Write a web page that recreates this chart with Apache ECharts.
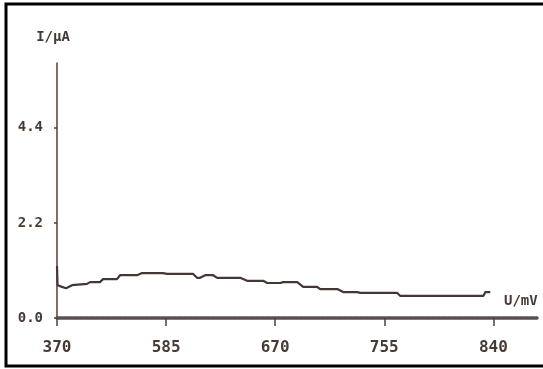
<!DOCTYPE html>
<html>
<head>
<meta charset="utf-8">
<script src="https://cdn.jsdelivr.net/npm/echarts@6/dist/echarts.min.js"></script>
<style>
html,body{margin:0;padding:0;background:#fff;}
#chart{width:543px;height:369px;}
</style>
</head>
<body>
<div id="chart"></div>
<script>
// x positions in axis-tick units (0 = first tick label, 1 = second, ...)
var xTickLabels = ['370', '585', '670', '755', '840'];
var yTickValues = [0, 2.2, 4.4];
var curveX = [0, 0.005, 0.046, 0.083, 0.138, 0.275, 0.303, 0.394, 0.422, 0.550, 0.578, 0.734, 0.780, 0.972, 1.009, 1.248, 1.284, 1.312, 1.358, 1.431, 1.468, 1.679, 1.743, 1.890, 1.927, 2.046, 2.073, 2.202, 2.257, 2.385, 2.413, 2.569, 2.624, 2.752, 2.780, 3.119, 3.147, 3.908, 3.927, 3.972];
var curveI = [1.20, 0.76, 0.72, 0.69, 0.76, 0.79, 0.83, 0.83, 0.90, 0.90, 0.99, 0.99, 1.04, 1.04, 1.02, 1.02, 0.93, 0.93, 0.99, 0.99, 0.93, 0.93, 0.86, 0.86, 0.81, 0.81, 0.83, 0.83, 0.72, 0.72, 0.67, 0.67, 0.60, 0.60, 0.58, 0.58, 0.51, 0.51, 0.60, 0.60];

var data = curveX.map(function (x, i) { return [x, curveI[i]]; });
var textColor = '#463a34';
var font = '"DejaVu Sans Mono", "Liberation Mono", monospace';

var chart = echarts.init(document.getElementById('chart'), null, {renderer: 'canvas'});
chart.setOption({
  animation: false,
  backgroundColor: '#ffffff',
  grid: {left: 57, top: 63, right: 6, bottom: 51},
  xAxis: {
    type: 'value',
    min: 0,
    max: 4.4,
    interval: 1,
    splitLine: {show: false},
    axisLine: {show: true, lineStyle: {color: '#5a5050', width: 3.5, type: [4, 1.5]}},
    axisTick: {show: true, customValues: [0, 1, 2, 3, 4], length: 8, inside: false, lineStyle: {color: '#4e423b', width: 1.5}},
    axisLabel: {
      customValues: [0, 1, 2, 3, 4],
      margin: 22,
      color: textColor,
      fontFamily: font,
      fontWeight: 'bold',
      fontSize: 16,
      formatter: function (v) { return xTickLabels[Math.round(v)]; }
    }
  },
  yAxis: {
    type: 'value',
    min: 0,
    max: 5.9,
    interval: 2.2,
    name: 'I/μA',
    nameLocation: 'end',
    nameGap: 19,
    nameTextStyle: {color: textColor, fontFamily: font, fontWeight: 'bold', fontSize: 14, padding: [0, 8, 0, 0]},
    splitLine: {show: false},
    axisLine: {show: true, onZero: false, lineStyle: {color: '#5b3b33', width: 1.5}},
    axisTick: {show: true, customValues: yTickValues, length: 3, lineStyle: {color: '#4e423b', width: 1.5}},
    axisLabel: {
      customValues: yTickValues,
      margin: 14,
      color: textColor,
      fontFamily: font,
      fontWeight: 'bold',
      fontSize: 14,
      formatter: function (v) { return v.toFixed(1); }
    }
  },
  series: [{
    type: 'line',
    data: data,
    showSymbol: false,
    lineStyle: {color: '#443836', width: 2.2},
    z: 3
  }],
  graphic: [
    {
      type: 'rect',
      shape: {x: 6, y: 4, width: 545, height: 362},
      style: {fill: 'none', stroke: '#000', lineWidth: 3},
      silent: true
    },
    {
      type: 'text',
      left: 504,
      top: 294,
      style: {text: 'U/mV', fill: textColor, font: 'bold 14px ' + font}
    }
  ]
});
</script>
</body>
</html>
